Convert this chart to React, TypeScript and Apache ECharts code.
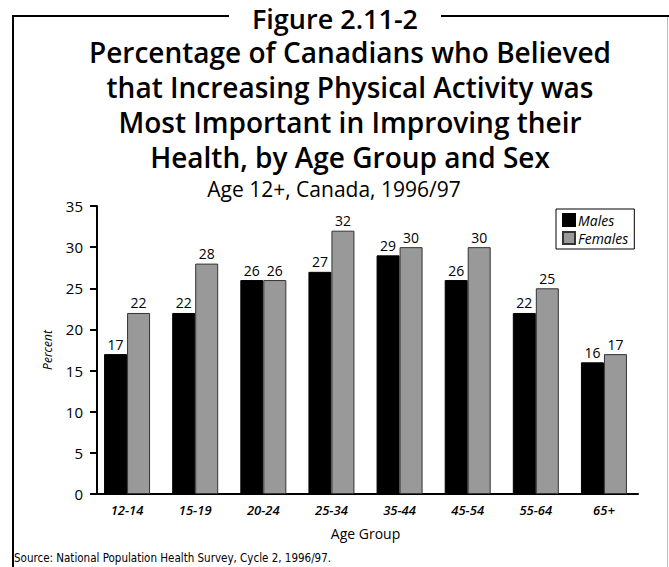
import React, { useEffect, useRef } from "react";
import * as echarts from "echarts";

const ageGroups = ["12-14", "15-19", "20-24", "25-34", "35-44", "45-54", "55-64", "65+"];
const males = [17, 22, 26, 27, 29, 26, 22, 16];
const females = [22, 28, 26, 32, 30, 30, 25, 17];

const figureLabel = "Figure 2.11-2";
const titleLines = [
  "Percentage of Canadians who Believed",
  "that Increasing Physical Activity was",
  "Most Important in Improving their",
  "Health, by Age Group and Sex",
];
const subtitle = "Age 12+, Canada, 1996/97";
const sourceNote = "Source: National Population Health Survey, Cycle 2, 1996/97.";

const FONT = "'Open Sans', 'DejaVu Sans', sans-serif";

export default function App() {
  const ref = useRef<HTMLDivElement>(null);

  useEffect(() => {
    if (!ref.current) return;
    const chart = echarts.init(ref.current, null, { renderer: "svg" });

    const titleGraphics: any[] = titleLines.map((line, i) => ({
      type: "text",
      x: 350,
      y: 52 + i * 35,
      style: {
        text: line,
        font: `600 28px ${FONT}`,
        fill: "#000",
        align: "center",
        verticalAlign: "middle",
      },
    }));

    const valueLabel = {
      show: true,
      position: "top" as const,
      distance: 3,
      color: "#000",
      fontSize: 14,
      fontFamily: FONT,
    };

    chart.setOption({
      animation: false,
      backgroundColor: "#fff",
      textStyle: { fontFamily: FONT },
      grid: { left: 93, right: 31, top: 206, bottom: 73 },
      legend: {
        orient: "vertical",
        left: 556,
        top: 209,
        padding: [4, 6, 4, 6],
        borderColor: "#000",
        borderWidth: 1,
        backgroundColor: "#fff",
        itemWidth: 12,
        itemHeight: 12,
        itemGap: 4,
        icon: "rect",
        textStyle: { fontSize: 14, fontStyle: "italic", color: "#000", fontFamily: FONT, padding: [0, 0, 0, -2] },
        data: ["Males", "Females"],
      },
      xAxis: {
        type: "category",
        data: ageGroups,
        name: "Age Group",
        nameLocation: "middle",
        nameGap: 32,
        nameTextStyle: { fontSize: 14, color: "#000", fontFamily: FONT },
        axisLine: { lineStyle: { color: "#000", width: 2 } },
        axisTick: { show: false },
        axisLabel: { color: "#000", fontSize: 13, fontWeight: 600, fontStyle: "italic", margin: 9, fontFamily: FONT },
      },
      yAxis: {
        type: "value",
        min: 0,
        max: 35,
        interval: 5,
        offset: -4,
        name: "Percent",
        nameLocation: "middle",
        nameGap: 44,
        nameTextStyle: { fontSize: 12, fontStyle: "italic", color: "#000", fontFamily: FONT },
        splitLine: { show: false },
        axisLine: { show: true, lineStyle: { color: "#000", width: 2 } },
        axisTick: { show: true, length: 7, lineStyle: { color: "#000", width: 2 } },
        axisLabel: { color: "#000", fontSize: 15, margin: 14, fontFamily: FONT },
      },
      series: [
        {
          name: "Males",
          type: "bar",
          data: males,
          barWidth: 23,
          barGap: "0%",
          itemStyle: { color: "#000", borderColor: "#000", borderWidth: 1 },
          label: valueLabel,
        },
        {
          name: "Females",
          type: "bar",
          data: females,
          barWidth: 23,
          itemStyle: { color: "#999", borderColor: "#333", borderWidth: 1 },
          label: valueLabel,
        },
      ],
      graphic: [
        // frame: left edge, top edge broken by the figure label, thin right edge
        { type: "line", shape: { x1: 13, y1: 16, x2: 13, y2: 567 }, style: { stroke: "#000", lineWidth: 2 } },
        { type: "line", shape: { x1: 12, y1: 16, x2: 229, y2: 16 }, style: { stroke: "#000", lineWidth: 2 } },
        { type: "line", shape: { x1: 441, y1: 16, x2: 669, y2: 16 }, style: { stroke: "#000", lineWidth: 2 } },
        { type: "line", shape: { x1: 667.5, y1: 17, x2: 667.5, y2: 567 }, style: { stroke: "#bbb", lineWidth: 1 } },
        {
          type: "text",
          x: 335,
          y: 18,
          style: { text: figureLabel, font: `600 27px ${FONT}`, fill: "#000", align: "center", verticalAlign: "middle" },
        },
        ...titleGraphics,
        {
          type: "text",
          x: 334,
          y: 189,
          style: { text: subtitle, font: `500 21px ${FONT}`, fill: "#000", align: "center", verticalAlign: "middle" },
        },
        {
          type: "text",
          x: 14,
          y: 558,
          style: {
            text: sourceNote,
            font: `11.5px 'Liberation Sans Narrow', 'DejaVu Sans Condensed', ${FONT}`,
            fill: "#000",
            align: "left",
            verticalAlign: "middle",
          },
        },
      ],
    });

    return () => chart.dispose();
  }, []);

  return (
    <div
      ref={ref}
      style={{ position: "absolute", left: 0, top: 0, width: 669, height: 567 }}
    />
  );
}
